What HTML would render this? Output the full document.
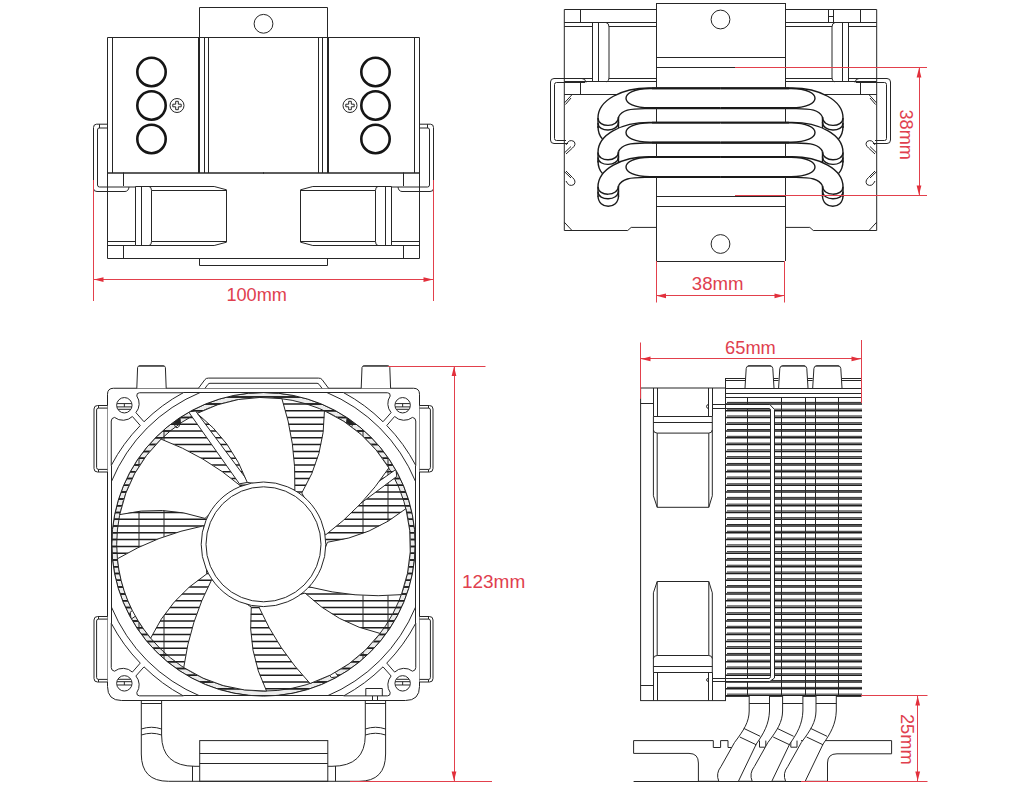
<!DOCTYPE html>
<html><head><meta charset="utf-8"><style>
html,body{margin:0;padding:0;background:#fff;width:1024px;height:800px;overflow:hidden}
svg{display:block}
.l{fill:none;stroke:#262626;stroke-width:1}
.w{fill:#fff;stroke:#262626;stroke-width:1}
.t{fill:none;stroke:#151515;stroke-width:2.6}
.nf{fill:#fff;stroke:none}
.pc{fill:none;stroke:#1a1a1a;stroke-width:1.4}
.thk{stroke:#1a1a1a;stroke-width:1.8}
.fin{stroke:#1e1e1e;stroke-width:1.5}
.r{stroke:#e2404c;stroke-width:1;fill:none}
.ra{fill:#e2303c;stroke:none}
.tx{font-family:"Liberation Sans",sans-serif;font-size:18px;fill:#e0404e;text-anchor:middle}
</style></head><body>
<svg width="1024" height="800" viewBox="0 0 1024 800">
<g>
<path d="M264,37.5 H107.5 V173 H264" class="l" />
<line x1="112.5" y1="37.5" x2="112.5" y2="173" class="l" />
<line x1="198.5" y1="37.5" x2="198.5" y2="173" class="l" />
<line x1="199.5" y1="37.5" x2="199.5" y2="173" class="l" />
<line x1="204.5" y1="37.5" x2="204.5" y2="173" class="l" />
<line x1="208.5" y1="37.5" x2="208.5" y2="173" class="l" />
<circle cx="151.5" cy="72" r="14.2" class="t" />
<circle cx="151.5" cy="105.5" r="14.2" class="t" />
<circle cx="151.5" cy="139" r="14.2" class="t" />
<circle cx="177" cy="105.5" r="7" class="l" stroke-width="1.2"/>
<path d="M172.8,104.2 H175.7 V101.3 H178.3 V104.2 H181.2 V106.8 H178.3 V109.7 H175.7 V106.8 H172.8 Z" class="l" stroke-width="1.2"/>
<path d="M264,173 H107.5 V258.5 H264" class="l" />
<line x1="123.5" y1="172.5" x2="123.5" y2="186" class="l" />
<line x1="123.5" y1="245.3" x2="123.5" y2="258.3" class="l" />
<line x1="107.5" y1="241.5" x2="135.5" y2="241.5" class="l" />
<line x1="107.5" y1="245.5" x2="135.5" y2="245.5" class="l" />
<path d="M135.5,186.5 H214.2 L226.5,189.8 V242.2 L214.2,245.5 H135.5 Z" class="l" />
<line x1="151.6" y1="190.5" x2="226.5" y2="190.5" class="l" />
<line x1="151.6" y1="241.5" x2="226.5" y2="241.5" class="l" />
<line x1="141.5" y1="186.5" x2="141.5" y2="245.5" class="l" />
<path d="M149,186.5 Q151.5,186.8 151.5,190.5 V241.5 Q151.5,245.2 149,245.5" class="l" />
<path d="M107.5,124.2 H96.5 Q93.5,124.2 93.5,127.5 V188.5 Q93.5,191.5 97,191.5 H125 Q128.5,191.3 129,187" class="l" />
<path d="M107.5,128 H99 Q97.5,128 97.5,130 V185 Q97.5,187 99.5,187 H129 H135.5" class="l" />
<line x1="99.5" y1="124.2" x2="99.5" y2="128" class="l" />
<path d="M199.5,258.5 V265.5 H264" class="l" />
<path d="M199.5,37.5 V7.5 H264" class="l" />
</g>
<g transform="translate(527,0) scale(-1,1)">
<path d="M264,37.5 H107.5 V173 H264" class="l" />
<line x1="112.5" y1="37.5" x2="112.5" y2="173" class="l" />
<line x1="198.5" y1="37.5" x2="198.5" y2="173" class="l" />
<line x1="199.5" y1="37.5" x2="199.5" y2="173" class="l" />
<line x1="204.5" y1="37.5" x2="204.5" y2="173" class="l" />
<line x1="208.5" y1="37.5" x2="208.5" y2="173" class="l" />
<circle cx="151.5" cy="72" r="14.2" class="t" />
<circle cx="151.5" cy="105.5" r="14.2" class="t" />
<circle cx="151.5" cy="139" r="14.2" class="t" />
<circle cx="177" cy="105.5" r="7" class="l" stroke-width="1.2"/>
<path d="M172.8,104.2 H175.7 V101.3 H178.3 V104.2 H181.2 V106.8 H178.3 V109.7 H175.7 V106.8 H172.8 Z" class="l" stroke-width="1.2"/>
<path d="M264,173 H107.5 V258.5 H264" class="l" />
<line x1="123.5" y1="172.5" x2="123.5" y2="186" class="l" />
<line x1="123.5" y1="245.3" x2="123.5" y2="258.3" class="l" />
<line x1="107.5" y1="241.5" x2="135.5" y2="241.5" class="l" />
<line x1="107.5" y1="245.5" x2="135.5" y2="245.5" class="l" />
<path d="M135.5,186.5 H214.2 L226.5,189.8 V242.2 L214.2,245.5 H135.5 Z" class="l" />
<line x1="151.6" y1="190.5" x2="226.5" y2="190.5" class="l" />
<line x1="151.6" y1="241.5" x2="226.5" y2="241.5" class="l" />
<line x1="141.5" y1="186.5" x2="141.5" y2="245.5" class="l" />
<path d="M149,186.5 Q151.5,186.8 151.5,190.5 V241.5 Q151.5,245.2 149,245.5" class="l" />
<path d="M107.5,124.2 H96.5 Q93.5,124.2 93.5,127.5 V188.5 Q93.5,191.5 97,191.5 H125 Q128.5,191.3 129,187" class="l" />
<path d="M107.5,128 H99 Q97.5,128 97.5,130 V185 Q97.5,187 99.5,187 H129 H135.5" class="l" />
<line x1="99.5" y1="124.2" x2="99.5" y2="128" class="l" />
<path d="M199.5,258.5 V265.5 H264" class="l" />
<path d="M199.5,37.5 V7.5 H264" class="l" />
</g>
<circle cx="263.5" cy="23.8" r="9.4" class="l" />
<line x1="93.5" y1="180" x2="93.5" y2="301" class="r" />
<line x1="433.5" y1="180" x2="433.5" y2="301" class="r" />
<line x1="93.5" y1="279.5" x2="433.5" y2="279.5" class="r" />
<polygon points="94,279.6 103.5,277.2 103.5,282" class="ra"/>
<polygon points="433,279.6 423.5,277.2 423.5,282" class="ra"/>
<text x="256.65" y="300.8" class="tx" textLength="60.5" lengthAdjust="spacingAndGlyphs">100mm</text>
<g>
<path d="M656,9.5 H564.3 V230.5 H627.7 L631.2,227.4 H656" class="l" />
<line x1="580.5" y1="9.5" x2="580.5" y2="22.5" class="l" />
<line x1="564.3" y1="22.5" x2="656" y2="22.5" class="l" />
<line x1="564.3" y1="26.5" x2="592.5" y2="26.5" class="l" />
<line x1="609" y1="26.5" x2="656" y2="26.5" class="l" />
<line x1="592.5" y1="22.5" x2="592.5" y2="81.8" class="l" />
<line x1="598.5" y1="22.5" x2="598.5" y2="81.8" class="l" />
<path d="M606,22.5 Q609,23 609,27 V77 Q609,81.5 606,81.8" class="l" />
<line x1="609" y1="78.5" x2="656" y2="78.5" class="l" />
<line x1="564.3" y1="78.5" x2="592.5" y2="78.5" class="l" />
<line x1="564.3" y1="81.5" x2="656" y2="81.5" class="l" />
<line x1="580.5" y1="82" x2="580.5" y2="94.7" class="l" />
<line x1="564.3" y1="94.5" x2="656" y2="94.5" class="l" />
<path d="M572,94.7 L564.3,103" class="l" />
<path d="M571,98 L565.5,104.5" class="l" stroke-width="0.7"/>
<path d="M564.3,222.2 L572,230.5" class="l" />
<path d="M564.3,153 L571,146.5" class="l" />
<path d="M564.3,171.5 L571,178" class="l" />
<path d="M566,145 Q569,138.5 574,141.5 Q576.5,144.5 572.5,148 L566,154" class="l" />
<path d="M566,171 L572.5,177.5 Q576.5,181 574,184.5 Q569,187.5 566,181" class="l" />
<path d="M583,78.5 H554 Q550.5,78.5 550.5,82 V140 Q550.5,143.5 554,143.5 H568" class="l" />
<path d="M585,82.5 H556.5 Q554.5,82.5 554.5,84.5 V138.5 Q554.5,140.5 556.5,140.5 H566" class="l" />
<path d="M582,78.5 Q585.5,78.5 586,82.5" class="l" />
<path d="M720.5,88 H649 C622,88 598,100 598,118 V128 C598,140 618.5,140 618.5,128 V117 C622,110 630,108.6 645,108.6 H720.5 Z" class="nf" />
<path d="M720.5,88 H649 C622,88 598,100 598,118 V128" class="pc" />
<path d="M598,118 C598,128 618.5,128 618.5,117" class="pc" />
<path d="M598,123 C598,132.5 618.5,132.5 618.5,122" class="pc" />
<line x1="618.5" y1="117" x2="618.5" y2="128" class="pc" />
<path d="M618.5,117 C622,110 630,108.6 645,108.6 H720.5" class="pc" />
<path d="M720.5,88.5 H650 C618,88.5 618,107.8 650,107.8 H720.5" class="pc" />
<line x1="652" y1="88.3" x2="720.5" y2="88.3" class="thk" />
<line x1="652" y1="108.2" x2="720.5" y2="108.2" class="thk" />
<path d="M720.5,122.4 H649 C622,122.4 598,134.4 598,152.4 V162.4 C598,174.4 618.5,174.4 618.5,162.4 V151.4 C622,144.4 630,143 645,143 H720.5 Z" class="nf" />
<path d="M720.5,122.4 H649 C622,122.4 598,134.4 598,152.4 V162.4" class="pc" />
<path d="M598,152.4 C598,162.4 618.5,162.4 618.5,151.4" class="pc" />
<path d="M598,157.4 C598,166.9 618.5,166.9 618.5,156.4" class="pc" />
<line x1="618.5" y1="151.4" x2="618.5" y2="162.4" class="pc" />
<path d="M618.5,151.4 C622,144.4 630,143 645,143 H720.5" class="pc" />
<path d="M720.5,122.9 H650 C618,122.9 618,142.2 650,142.2 H720.5" class="pc" />
<line x1="652" y1="122.7" x2="720.5" y2="122.7" class="thk" />
<line x1="652" y1="142.6" x2="720.5" y2="142.6" class="thk" />
<path d="M720.5,156.8 H649 C622,156.8 598,168.8 598,186.8 V196.8 C598,208.8 618.5,208.8 618.5,196.8 V185.8 C622,178.8 630,177.4 645,177.4 H720.5 Z" class="nf" />
<path d="M720.5,156.8 H649 C622,156.8 598,168.8 598,186.8 V196.8" class="pc" />
<path d="M598,186.8 C598,196.8 618.5,196.8 618.5,185.8" class="pc" />
<path d="M598,191.8 C598,201.3 618.5,201.3 618.5,190.8" class="pc" />
<line x1="618.5" y1="185.8" x2="618.5" y2="196.8" class="pc" />
<path d="M618.5,185.8 C622,178.8 630,177.4 645,177.4 H720.5" class="pc" />
<path d="M720.5,157.3 H650 C618,157.3 618,176.6 650,176.6 H720.5" class="pc" />
<line x1="652" y1="157.1" x2="720.5" y2="157.1" class="thk" />
<line x1="652" y1="177" x2="720.5" y2="177" class="thk" />
<path d="M598,126 C598,132 599.5,136 602.5,139" class="pc" />
<path d="M598,160.4 C598,166.4 599.5,170.4 602.5,173.4" class="pc" />
<path d="M598,195.8 C598,209.8 618.5,209.8 618.5,195.8" class="pc" stroke-width="1.8"/>
</g>
<g transform="translate(1441,0) scale(-1,1)">
<path d="M656,9.5 H564.3 V230.5 H627.7 L631.2,227.4 H656" class="l" />
<line x1="580.5" y1="9.5" x2="580.5" y2="22.5" class="l" />
<line x1="564.3" y1="22.5" x2="656" y2="22.5" class="l" />
<line x1="564.3" y1="26.5" x2="592.5" y2="26.5" class="l" />
<line x1="609" y1="26.5" x2="656" y2="26.5" class="l" />
<line x1="592.5" y1="22.5" x2="592.5" y2="81.8" class="l" />
<line x1="598.5" y1="22.5" x2="598.5" y2="81.8" class="l" />
<path d="M606,22.5 Q609,23 609,27 V77 Q609,81.5 606,81.8" class="l" />
<line x1="609" y1="78.5" x2="656" y2="78.5" class="l" />
<line x1="564.3" y1="78.5" x2="592.5" y2="78.5" class="l" />
<line x1="564.3" y1="81.5" x2="656" y2="81.5" class="l" />
<line x1="580.5" y1="82" x2="580.5" y2="94.7" class="l" />
<line x1="564.3" y1="94.5" x2="656" y2="94.5" class="l" />
<path d="M572,94.7 L564.3,103" class="l" />
<path d="M571,98 L565.5,104.5" class="l" stroke-width="0.7"/>
<path d="M564.3,222.2 L572,230.5" class="l" />
<path d="M564.3,153 L571,146.5" class="l" />
<path d="M564.3,171.5 L571,178" class="l" />
<path d="M566,145 Q569,138.5 574,141.5 Q576.5,144.5 572.5,148 L566,154" class="l" />
<path d="M566,171 L572.5,177.5 Q576.5,181 574,184.5 Q569,187.5 566,181" class="l" />
<path d="M583,78.5 H554 Q550.5,78.5 550.5,82 V140 Q550.5,143.5 554,143.5 H568" class="l" />
<path d="M585,82.5 H556.5 Q554.5,82.5 554.5,84.5 V138.5 Q554.5,140.5 556.5,140.5 H566" class="l" />
<path d="M582,78.5 Q585.5,78.5 586,82.5" class="l" />
<path d="M720.5,88 H649 C622,88 598,100 598,118 V128 C598,140 618.5,140 618.5,128 V117 C622,110 630,108.6 645,108.6 H720.5 Z" class="nf" />
<path d="M720.5,88 H649 C622,88 598,100 598,118 V128" class="pc" />
<path d="M598,118 C598,128 618.5,128 618.5,117" class="pc" />
<path d="M598,123 C598,132.5 618.5,132.5 618.5,122" class="pc" />
<line x1="618.5" y1="117" x2="618.5" y2="128" class="pc" />
<path d="M618.5,117 C622,110 630,108.6 645,108.6 H720.5" class="pc" />
<path d="M720.5,88.5 H650 C618,88.5 618,107.8 650,107.8 H720.5" class="pc" />
<line x1="652" y1="88.3" x2="720.5" y2="88.3" class="thk" />
<line x1="652" y1="108.2" x2="720.5" y2="108.2" class="thk" />
<path d="M720.5,122.4 H649 C622,122.4 598,134.4 598,152.4 V162.4 C598,174.4 618.5,174.4 618.5,162.4 V151.4 C622,144.4 630,143 645,143 H720.5 Z" class="nf" />
<path d="M720.5,122.4 H649 C622,122.4 598,134.4 598,152.4 V162.4" class="pc" />
<path d="M598,152.4 C598,162.4 618.5,162.4 618.5,151.4" class="pc" />
<path d="M598,157.4 C598,166.9 618.5,166.9 618.5,156.4" class="pc" />
<line x1="618.5" y1="151.4" x2="618.5" y2="162.4" class="pc" />
<path d="M618.5,151.4 C622,144.4 630,143 645,143 H720.5" class="pc" />
<path d="M720.5,122.9 H650 C618,122.9 618,142.2 650,142.2 H720.5" class="pc" />
<line x1="652" y1="122.7" x2="720.5" y2="122.7" class="thk" />
<line x1="652" y1="142.6" x2="720.5" y2="142.6" class="thk" />
<path d="M720.5,156.8 H649 C622,156.8 598,168.8 598,186.8 V196.8 C598,208.8 618.5,208.8 618.5,196.8 V185.8 C622,178.8 630,177.4 645,177.4 H720.5 Z" class="nf" />
<path d="M720.5,156.8 H649 C622,156.8 598,168.8 598,186.8 V196.8" class="pc" />
<path d="M598,186.8 C598,196.8 618.5,196.8 618.5,185.8" class="pc" />
<path d="M598,191.8 C598,201.3 618.5,201.3 618.5,190.8" class="pc" />
<line x1="618.5" y1="185.8" x2="618.5" y2="196.8" class="pc" />
<path d="M618.5,185.8 C622,178.8 630,177.4 645,177.4 H720.5" class="pc" />
<path d="M720.5,157.3 H650 C618,157.3 618,176.6 650,176.6 H720.5" class="pc" />
<line x1="652" y1="157.1" x2="720.5" y2="157.1" class="thk" />
<line x1="652" y1="177" x2="720.5" y2="177" class="thk" />
<path d="M598,126 C598,132 599.5,136 602.5,139" class="pc" />
<path d="M598,160.4 C598,166.4 599.5,170.4 602.5,173.4" class="pc" />
<path d="M598,195.8 C598,209.8 618.5,209.8 618.5,195.8" class="pc" stroke-width="1.8"/>
</g>
<line x1="656.5" y1="3" x2="656.5" y2="88" class="l" />
<line x1="785.5" y1="3" x2="785.5" y2="88" class="l" />
<line x1="656.5" y1="108.6" x2="656.5" y2="122.4" class="l" />
<line x1="785.5" y1="108.6" x2="785.5" y2="122.4" class="l" />
<line x1="656.5" y1="143" x2="656.5" y2="156.8" class="l" />
<line x1="785.5" y1="143" x2="785.5" y2="156.8" class="l" />
<line x1="656.5" y1="177.4" x2="656.5" y2="261" class="l" />
<line x1="785.5" y1="177.4" x2="785.5" y2="261" class="l" />
<line x1="656" y1="3.5" x2="785" y2="3.5" class="l" />
<line x1="656" y1="261.5" x2="785" y2="261.5" class="l" />
<line x1="656" y1="57.5" x2="785" y2="57.5" class="l" />
<line x1="656" y1="67.5" x2="785" y2="67.5" class="l" />
<line x1="656" y1="196.5" x2="785" y2="196.5" class="l" />
<line x1="656" y1="206.5" x2="785" y2="206.5" class="l" />
<circle cx="720.5" cy="19.5" r="9.4" class="l" />
<circle cx="720.5" cy="244" r="9.4" class="l" />
<line x1="828.5" y1="9.5" x2="828.5" y2="22.5" class="l" />
<line x1="833.5" y1="9.5" x2="833.5" y2="22.5" class="l" />
<line x1="828.5" y1="16.5" x2="833.3" y2="16.5" class="l" />
<line x1="735" y1="67.5" x2="927" y2="67.5" class="r" />
<line x1="735" y1="195.5" x2="927" y2="195.5" class="r" />
<line x1="919.5" y1="67.4" x2="919.5" y2="195.5" class="r" />
<polygon points="919,68 916.6,77.5 921.4,77.5" class="ra"/>
<polygon points="919,195 916.6,185.5 921.4,185.5" class="ra"/>
<text x="134.7" y="-899.5" class="tx" transform="rotate(90)" textLength="50.4" lengthAdjust="spacingAndGlyphs">38mm</text>
<line x1="656.5" y1="261" x2="656.5" y2="302.5" class="r" />
<line x1="784.5" y1="261" x2="784.5" y2="302.5" class="r" />
<line x1="656" y1="295.5" x2="784.5" y2="295.5" class="r" />
<polygon points="656.5,295.8 666,293.4 666,298.2" class="ra"/>
<polygon points="784,295.8 774.5,293.4 774.5,298.2" class="ra"/>
<text x="717.65" y="289.8" class="tx" textLength="51.7" lengthAdjust="spacingAndGlyphs">38mm</text>
<clipPath id="ringclip"><circle cx="263.5" cy="544.3" r="151.8"/></clipPath>
<clipPath id="annclip"><path d="M263.5,392.5 A151.8,151.8 0 1 0 263.5,696.1 A151.8,151.8 0 1 0 263.5,392.5 Z M263.5,397.5 A146.8,146.8 0 1 0 263.5,691.1 A146.8,146.8 0 1 0 263.5,397.5 Z" clip-rule="evenodd"/></clipPath>
<path d="M263.5,392.5 A151.8,151.8 0 1 0 263.5,696.1 A151.8,151.8 0 1 0 263.5,392.5 Z M263.5,397.5 A146.8,146.8 0 1 0 263.5,691.1 A146.8,146.8 0 1 0 263.5,397.5 Z" fill="#ececec" fill-rule="evenodd" stroke="none"/>
<g clip-path="url(#annclip)">
<line x1="100" y1="390.33" x2="430" y2="390.33" class="fin" stroke-width="2.3"/>
<line x1="100" y1="397.11" x2="430" y2="397.11" class="fin" stroke-width="2.3"/>
<line x1="100" y1="403.9" x2="430" y2="403.9" class="fin" stroke-width="2.3"/>
<line x1="100" y1="410.69" x2="430" y2="410.69" class="fin" stroke-width="2.3"/>
<line x1="100" y1="417.47" x2="430" y2="417.47" class="fin" stroke-width="2.3"/>
<line x1="100" y1="424.25" x2="430" y2="424.25" class="fin" stroke-width="2.3"/>
<line x1="100" y1="431.04" x2="430" y2="431.04" class="fin" stroke-width="2.3"/>
<line x1="100" y1="437.82" x2="430" y2="437.82" class="fin" stroke-width="2.3"/>
<line x1="100" y1="444.61" x2="430" y2="444.61" class="fin" stroke-width="2.3"/>
<line x1="100" y1="451.39" x2="430" y2="451.39" class="fin" stroke-width="2.3"/>
<line x1="100" y1="458.18" x2="430" y2="458.18" class="fin" stroke-width="2.3"/>
<line x1="100" y1="464.96" x2="430" y2="464.96" class="fin" stroke-width="2.3"/>
<line x1="100" y1="471.75" x2="430" y2="471.75" class="fin" stroke-width="2.3"/>
<line x1="100" y1="478.53" x2="430" y2="478.53" class="fin" stroke-width="2.3"/>
<line x1="100" y1="485.32" x2="430" y2="485.32" class="fin" stroke-width="2.3"/>
<line x1="100" y1="492.1" x2="430" y2="492.1" class="fin" stroke-width="2.3"/>
<line x1="100" y1="498.89" x2="430" y2="498.89" class="fin" stroke-width="2.3"/>
<line x1="100" y1="505.67" x2="430" y2="505.67" class="fin" stroke-width="2.3"/>
<line x1="100" y1="512.46" x2="430" y2="512.46" class="fin" stroke-width="2.3"/>
<line x1="100" y1="519.25" x2="430" y2="519.25" class="fin" stroke-width="2.3"/>
<line x1="100" y1="526.03" x2="430" y2="526.03" class="fin" stroke-width="2.3"/>
<line x1="100" y1="532.81" x2="430" y2="532.81" class="fin" stroke-width="2.3"/>
<line x1="100" y1="539.6" x2="430" y2="539.6" class="fin" stroke-width="2.3"/>
<line x1="100" y1="546.38" x2="430" y2="546.38" class="fin" stroke-width="2.3"/>
<line x1="100" y1="553.17" x2="430" y2="553.17" class="fin" stroke-width="2.3"/>
<line x1="100" y1="559.95" x2="430" y2="559.95" class="fin" stroke-width="2.3"/>
<line x1="100" y1="566.74" x2="430" y2="566.74" class="fin" stroke-width="2.3"/>
<line x1="100" y1="573.52" x2="430" y2="573.52" class="fin" stroke-width="2.3"/>
<line x1="100" y1="580.31" x2="430" y2="580.31" class="fin" stroke-width="2.3"/>
<line x1="100" y1="587.1" x2="430" y2="587.1" class="fin" stroke-width="2.3"/>
<line x1="100" y1="593.88" x2="430" y2="593.88" class="fin" stroke-width="2.3"/>
<line x1="100" y1="600.66" x2="430" y2="600.66" class="fin" stroke-width="2.3"/>
<line x1="100" y1="607.45" x2="430" y2="607.45" class="fin" stroke-width="2.3"/>
<line x1="100" y1="614.24" x2="430" y2="614.24" class="fin" stroke-width="2.3"/>
<line x1="100" y1="621.02" x2="430" y2="621.02" class="fin" stroke-width="2.3"/>
<line x1="100" y1="627.8" x2="430" y2="627.8" class="fin" stroke-width="2.3"/>
<line x1="100" y1="634.59" x2="430" y2="634.59" class="fin" stroke-width="2.3"/>
<line x1="100" y1="641.38" x2="430" y2="641.38" class="fin" stroke-width="2.3"/>
<line x1="100" y1="648.16" x2="430" y2="648.16" class="fin" stroke-width="2.3"/>
<line x1="100" y1="654.94" x2="430" y2="654.94" class="fin" stroke-width="2.3"/>
<line x1="100" y1="661.73" x2="430" y2="661.73" class="fin" stroke-width="2.3"/>
<line x1="100" y1="668.51" x2="430" y2="668.51" class="fin" stroke-width="2.3"/>
<line x1="100" y1="675.3" x2="430" y2="675.3" class="fin" stroke-width="2.3"/>
<line x1="100" y1="682.09" x2="430" y2="682.09" class="fin" stroke-width="2.3"/>
<line x1="100" y1="688.87" x2="430" y2="688.87" class="fin" stroke-width="2.3"/>
<line x1="100" y1="695.65" x2="430" y2="695.65" class="fin" stroke-width="2.3"/>
<line x1="100" y1="702.44" x2="430" y2="702.44" class="fin" stroke-width="2.3"/>
</g>
<g clip-path="url(#ringclip)">
<line x1="100" y1="390.33" x2="430" y2="390.33" class="fin" />
<line x1="100" y1="397.11" x2="430" y2="397.11" class="fin" />
<line x1="100" y1="403.9" x2="430" y2="403.9" class="fin" />
<line x1="100" y1="410.69" x2="430" y2="410.69" class="fin" />
<line x1="100" y1="417.47" x2="430" y2="417.47" class="fin" />
<line x1="100" y1="424.25" x2="430" y2="424.25" class="fin" />
<line x1="100" y1="431.04" x2="430" y2="431.04" class="fin" />
<line x1="100" y1="437.82" x2="430" y2="437.82" class="fin" />
<line x1="100" y1="444.61" x2="430" y2="444.61" class="fin" />
<line x1="100" y1="451.39" x2="430" y2="451.39" class="fin" />
<line x1="100" y1="458.18" x2="430" y2="458.18" class="fin" />
<line x1="100" y1="464.96" x2="430" y2="464.96" class="fin" />
<line x1="100" y1="471.75" x2="430" y2="471.75" class="fin" />
<line x1="100" y1="478.53" x2="430" y2="478.53" class="fin" />
<line x1="100" y1="485.32" x2="430" y2="485.32" class="fin" />
<line x1="100" y1="492.1" x2="430" y2="492.1" class="fin" />
<line x1="100" y1="498.89" x2="430" y2="498.89" class="fin" />
<line x1="100" y1="505.67" x2="430" y2="505.67" class="fin" />
<line x1="100" y1="512.46" x2="430" y2="512.46" class="fin" />
<line x1="100" y1="519.25" x2="430" y2="519.25" class="fin" />
<line x1="100" y1="526.03" x2="430" y2="526.03" class="fin" />
<line x1="100" y1="532.81" x2="430" y2="532.81" class="fin" />
<line x1="100" y1="539.6" x2="430" y2="539.6" class="fin" />
<line x1="100" y1="546.38" x2="430" y2="546.38" class="fin" />
<line x1="100" y1="553.17" x2="430" y2="553.17" class="fin" />
<line x1="100" y1="559.95" x2="430" y2="559.95" class="fin" />
<line x1="100" y1="566.74" x2="430" y2="566.74" class="fin" />
<line x1="100" y1="573.52" x2="430" y2="573.52" class="fin" />
<line x1="100" y1="580.31" x2="430" y2="580.31" class="fin" />
<line x1="100" y1="587.1" x2="430" y2="587.1" class="fin" />
<line x1="100" y1="593.88" x2="430" y2="593.88" class="fin" />
<line x1="100" y1="600.66" x2="430" y2="600.66" class="fin" />
<line x1="100" y1="607.45" x2="430" y2="607.45" class="fin" />
<line x1="100" y1="614.24" x2="430" y2="614.24" class="fin" />
<line x1="100" y1="621.02" x2="430" y2="621.02" class="fin" />
<line x1="100" y1="627.8" x2="430" y2="627.8" class="fin" />
<line x1="100" y1="634.59" x2="430" y2="634.59" class="fin" />
<line x1="100" y1="641.38" x2="430" y2="641.38" class="fin" />
<line x1="100" y1="648.16" x2="430" y2="648.16" class="fin" />
<line x1="100" y1="654.94" x2="430" y2="654.94" class="fin" />
<line x1="100" y1="661.73" x2="430" y2="661.73" class="fin" />
<line x1="100" y1="668.51" x2="430" y2="668.51" class="fin" />
<line x1="100" y1="675.3" x2="430" y2="675.3" class="fin" />
<line x1="100" y1="682.09" x2="430" y2="682.09" class="fin" />
<line x1="100" y1="688.87" x2="430" y2="688.87" class="fin" />
<line x1="100" y1="695.65" x2="430" y2="695.65" class="fin" />
<line x1="100" y1="702.44" x2="430" y2="702.44" class="fin" />
<line x1="139" y1="380" x2="139" y2="700" class="l" stroke-width="0.6" stroke="#555"/>
<line x1="164" y1="380" x2="164" y2="700" class="l" stroke-width="0.6" stroke="#555"/>
<line x1="363" y1="380" x2="363" y2="700" class="l" stroke-width="0.6" stroke="#555"/>
<line x1="388" y1="380" x2="388" y2="700" class="l" stroke-width="0.6" stroke="#555"/>
</g>
<circle cx="263.5" cy="544.3" r="146.8" class="l" stroke-width="1.1"/>
<circle cx="263.5" cy="544.3" r="151.8" class="l" stroke-width="1.1"/>
<path d="M188.6,411.9 L239.4,483.8 L248.8,482.2 L195.6,411 Z" class="w" transform="rotate(0 263.5 544.3)"/>
<path d="M188.6,411.9 L239.4,483.8 L248.8,482.2 L195.6,411 Z" class="w" transform="rotate(90 263.5 544.3)"/>
<path d="M188.6,411.9 L239.4,483.8 L248.8,482.2 L195.6,411 Z" class="w" transform="rotate(180 263.5 544.3)"/>
<path d="M188.6,411.9 L239.4,483.8 L248.8,482.2 L195.6,411 Z" class="w" transform="rotate(270 263.5 544.3)"/>
<g >
<path d="M173.5,424 L176,418.5 L180,418 L180.5,424 Z" class="l" style="fill:#222"/>
<path d="M174.8,424 V426 Q177,429.5 179.3,426 V424" class="l" stroke-width="0.9"/>
</g>
<g transform="translate(527,0) scale(-1,1)">
<path d="M173.5,424 L176,418.5 L180,418 L180.5,424 Z" class="l" style="fill:#222"/>
<path d="M174.8,424 V426 Q177,429.5 179.3,426 V424" class="l" stroke-width="0.9"/>
</g>
<path d="M197.08,413.38 A146.8,146.8 0 0 1 281.9,398.66 Q296.3,443.21 294.85,490 L247.26,482.39 Q231.88,440.83 197.08,413.38 Z" class="w" />
<path d="M324.44,410.75 A146.8,146.8 0 0 1 388.84,467.88 Q362.99,506.91 325.5,534.96 L301.77,493.01 Q324.68,455.07 324.44,410.75 Z" class="w" />
<path d="M405.91,508.68 A146.8,146.8 0 0 1 401.4,594.65 Q354.76,598.77 309.46,586.95 L327.47,542.24 Q371.41,536.49 405.91,508.68 Z" class="w" />
<path d="M380.14,633.43 A146.8,146.8 0 0 1 310.12,683.5 Q277.82,649.61 258.81,606.82 L304.99,593.03 Q336.88,623.8 380.14,633.43 Z" class="w" />
<path d="M266.54,691.07 A146.8,146.8 0 0 1 183.73,667.54 Q190.09,621.15 211.69,579.62 L251.27,607.12 Q247.1,651.24 266.54,691.07 Z" class="w" />
<path d="M150.65,638.18 A146.8,146.8 0 0 1 117.41,558.77 Q157.64,534.82 203.59,525.82 L206.76,573.91 Q169.66,598.15 150.65,638.18 Z" class="w" />
<path d="M119.74,514.6 A146.8,146.8 0 0 1 161.1,439.11 Q204.91,455.63 240.59,485.93 L204.97,518.4 Q162.89,504.51 119.74,514.6 Z" class="w" />
<circle cx="263.5" cy="544.3" r="62.3" class="w" />
<circle cx="263.5" cy="544.3" r="57.5" class="l" />
<path d="M113.5,388.25 H413.5 Q419.5,388.25 419.5,394.25 V686.5 Q419.5,700.5 405.5,700.5 H121.5 Q107.5,700.5 107.5,686.5 V394.25 Q107.5,388.25 113.5,388.25 Z M263.5,392.5 A151.8,151.8 0 1 0 263.5,696.1 A151.8,151.8 0 1 0 263.5,392.5 Z" fill="#fff" fill-rule="evenodd" stroke="#222" stroke-width="1"/>
<line x1="111.5" y1="465.4" x2="111.5" y2="623.2" class="l" />
<line x1="415.5" y1="465.4" x2="415.5" y2="623.2" class="l" />
<line x1="183.2" y1="392.5" x2="343.8" y2="392.5" class="l" />
<line x1="183.2" y1="695.5" x2="343.8" y2="695.5" class="l" />
<clipPath id="frclip"><rect x="111.25" y="392.75" width="304.5" height="303.1"/></clipPath>
<g clip-path="url(#frclip)">
<circle cx="263.5" cy="544.3" r="164.5" class="l" />
</g>
<g transform="">
<circle cx="124.35" cy="405.25" r="7.7" class="l" />
<line x1="117.15" y1="403.6" x2="131.55" y2="403.6" class="l" stroke-width="1.4"/>
<line x1="117.05" y1="406.9" x2="131.65" y2="406.9" class="l" stroke-width="0.8"/>
<line x1="118.05" y1="409.3" x2="130.65" y2="409.3" class="l" stroke-width="0.8"/>
<line x1="124.35" y1="403.6" x2="124.35" y2="406.9" class="l" stroke-width="0.8"/>
<path d="M139.5,392.75 H183.2 A171.5,171.5 0 0 0 144,421.75 L135.9,412.6 A13.7,13.7 0 0 0 136.8,396 Q136.5,392.75 139.5,392.75 Z" class="l" />
<path d="M111.25,465.4 V421 Q111.25,418 114.5,417.4 A13.8,13.8 0 0 0 132.4,416.5 L140.25,425.5 A171.5,171.5 0 0 0 111.25,465.4 Z" class="l" />
</g>
<g transform="translate(527,0) scale(-1,1)">
<circle cx="124.35" cy="405.25" r="7.7" class="l" />
<line x1="117.15" y1="403.6" x2="131.55" y2="403.6" class="l" stroke-width="1.4"/>
<line x1="117.05" y1="406.9" x2="131.65" y2="406.9" class="l" stroke-width="0.8"/>
<line x1="118.05" y1="409.3" x2="130.65" y2="409.3" class="l" stroke-width="0.8"/>
<line x1="124.35" y1="403.6" x2="124.35" y2="406.9" class="l" stroke-width="0.8"/>
<path d="M139.5,392.75 H183.2 A171.5,171.5 0 0 0 144,421.75 L135.9,412.6 A13.7,13.7 0 0 0 136.8,396 Q136.5,392.75 139.5,392.75 Z" class="l" />
<path d="M111.25,465.4 V421 Q111.25,418 114.5,417.4 A13.8,13.8 0 0 0 132.4,416.5 L140.25,425.5 A171.5,171.5 0 0 0 111.25,465.4 Z" class="l" />
</g>
<g transform="translate(0,1088.6) scale(1,-1)">
<circle cx="124.35" cy="405.25" r="7.7" class="l" />
<line x1="117.15" y1="403.6" x2="131.55" y2="403.6" class="l" stroke-width="1.4"/>
<line x1="117.05" y1="406.9" x2="131.65" y2="406.9" class="l" stroke-width="0.8"/>
<line x1="118.05" y1="409.3" x2="130.65" y2="409.3" class="l" stroke-width="0.8"/>
<line x1="124.35" y1="403.6" x2="124.35" y2="406.9" class="l" stroke-width="0.8"/>
<path d="M139.5,392.75 H183.2 A171.5,171.5 0 0 0 144,421.75 L135.9,412.6 A13.7,13.7 0 0 0 136.8,396 Q136.5,392.75 139.5,392.75 Z" class="l" />
<path d="M111.25,465.4 V421 Q111.25,418 114.5,417.4 A13.8,13.8 0 0 0 132.4,416.5 L140.25,425.5 A171.5,171.5 0 0 0 111.25,465.4 Z" class="l" />
</g>
<g transform="translate(527,1088.6) scale(-1,-1)">
<circle cx="124.35" cy="405.25" r="7.7" class="l" />
<line x1="117.15" y1="403.6" x2="131.55" y2="403.6" class="l" stroke-width="1.4"/>
<line x1="117.05" y1="406.9" x2="131.65" y2="406.9" class="l" stroke-width="0.8"/>
<line x1="118.05" y1="409.3" x2="130.65" y2="409.3" class="l" stroke-width="0.8"/>
<line x1="124.35" y1="403.6" x2="124.35" y2="406.9" class="l" stroke-width="0.8"/>
<path d="M139.5,392.75 H183.2 A171.5,171.5 0 0 0 144,421.75 L135.9,412.6 A13.7,13.7 0 0 0 136.8,396 Q136.5,392.75 139.5,392.75 Z" class="l" />
<path d="M111.25,465.4 V421 Q111.25,418 114.5,417.4 A13.8,13.8 0 0 0 132.4,416.5 L140.25,425.5 A171.5,171.5 0 0 0 111.25,465.4 Z" class="l" />
</g>
<path d="M198.4,388.3 L205,379.5 Q206,378.1 208.5,378.1 H318.5 Q321,378.1 322,379.5 L328.6,388.3" class="w" />
<path d="M205,388.3 L208,384.3 Q208.8,383.3 210,383.3 H317 Q318.2,383.3 319,384.3 L322,388.3" class="l" />
<g >
<path d="M107.5,405.5 H97.5 Q94,405.5 94,409 V468.5 Q94,472 97.5,472 H107.5" class="w" />
<path d="M107.5,408.1 H98.5 Q96.6,408.1 96.6,410 V467.5 Q96.6,469.4 98.5,469.4 H107.5" class="l" stroke-width="0.8"/>
<line x1="98.5" y1="405.5" x2="98.5" y2="408.1" class="l" stroke-width="0.7"/>
<line x1="98.5" y1="469.4" x2="98.5" y2="472" class="l" stroke-width="0.7"/>
</g>
<g transform="translate(527,0) scale(-1,1)">
<path d="M107.5,405.5 H97.5 Q94,405.5 94,409 V468.5 Q94,472 97.5,472 H107.5" class="w" />
<path d="M107.5,408.1 H98.5 Q96.6,408.1 96.6,410 V467.5 Q96.6,469.4 98.5,469.4 H107.5" class="l" stroke-width="0.8"/>
<line x1="98.5" y1="405.5" x2="98.5" y2="408.1" class="l" stroke-width="0.7"/>
<line x1="98.5" y1="469.4" x2="98.5" y2="472" class="l" stroke-width="0.7"/>
</g>
<g >
<path d="M107.5,616.5 H97.5 Q94,616.5 94,620 V678.5 Q94,682 97.5,682 H107.5" class="w" />
<path d="M107.5,619.1 H98.5 Q96.6,619.1 96.6,621 V677.5 Q96.6,679.4 98.5,679.4 H107.5" class="l" stroke-width="0.8"/>
<line x1="98.5" y1="616.5" x2="98.5" y2="619.1" class="l" stroke-width="0.7"/>
<line x1="98.5" y1="679.4" x2="98.5" y2="682" class="l" stroke-width="0.7"/>
</g>
<g transform="translate(527,0) scale(-1,1)">
<path d="M107.5,616.5 H97.5 Q94,616.5 94,620 V678.5 Q94,682 97.5,682 H107.5" class="w" />
<path d="M107.5,619.1 H98.5 Q96.6,619.1 96.6,621 V677.5 Q96.6,679.4 98.5,679.4 H107.5" class="l" stroke-width="0.8"/>
<line x1="98.5" y1="616.5" x2="98.5" y2="619.1" class="l" stroke-width="0.7"/>
<line x1="98.5" y1="679.4" x2="98.5" y2="682" class="l" stroke-width="0.7"/>
</g>
<path d="M365.8,696 V688.5 H382.3 V696" class="l" />
<line x1="372.5" y1="696" x2="372.5" y2="700.5" class="l" />
<line x1="377.5" y1="696" x2="377.5" y2="700.5" class="l" />
<path d="M136.8,388.3 L137.6,367.5 Q137.8,365.9 139.8,365.9 H163.2 Q165.2,365.9 165.4,367.5 L166.2,388.3" class="w" />
<line x1="138.8" y1="366" x2="164.2" y2="366" class="l" stroke-width="1.8" stroke="#111"/>
<path d="M361.2,388.3 L362,367.5 Q362.2,365.9 364.2,365.9 H387.6 Q389.6,365.9 389.8,367.5 L390.6,388.3" class="w" />
<line x1="363.2" y1="366" x2="388.6" y2="366" class="l" stroke-width="1.8" stroke="#111"/>
<path d="M141.3,700.5 V754 Q141.3,781.3 168.5,781.3 H359 Q385.6,781.3 385.6,754 V700.5" class="l" />
<path d="M161.6,700.5 V735 Q161.6,766.3 195,766.3 H199.7" class="l" />
<path d="M365.3,700.5 V735 Q365.3,766.3 332,766.3 H327.8" class="l" />
<line x1="141.3" y1="703.5" x2="161.6" y2="703.5" class="l" />
<line x1="365.3" y1="703.5" x2="385.6" y2="703.5" class="l" />
<path d="M141.3,729 Q151.5,725.5 161.6,729" class="l" />
<path d="M141.3,735 Q151.5,731.5 161.6,735" class="l" />
<path d="M365.3,729 Q375.5,725.5 385.6,729" class="l" />
<path d="M365.3,735 Q375.5,731.5 385.6,735" class="l" />
<rect x="199.7" y="740.6" width="128.1" height="40.7" class="l" />
<line x1="199.7" y1="753.5" x2="327.8" y2="753.5" class="l" />
<line x1="199.7" y1="763.5" x2="327.8" y2="763.5" class="l" />
<line x1="192.5" y1="766" x2="192.5" y2="781.3" class="l" />
<line x1="335.5" y1="766" x2="335.5" y2="781.3" class="l" />
<line x1="388" y1="366.5" x2="485.5" y2="366.5" class="r" />
<line x1="350" y1="781.5" x2="492" y2="781.5" class="r" />
<line x1="454.5" y1="366" x2="454.5" y2="781.3" class="r" />
<polygon points="454,366.5 451.6,376 456.4,376" class="ra"/>
<polygon points="454,781 451.6,771.5 456.4,771.5" class="ra"/>
<text x="493.6" y="588.1" class="tx" textLength="63.4" lengthAdjust="spacingAndGlyphs">123mm</text>
<line x1="727" y1="402.4" x2="862" y2="402.4" class="l" stroke="#8c8c8c" stroke-width="1.2"/>
<line x1="725.5" y1="403.9" x2="862" y2="403.9" class="fin" />
<line x1="727" y1="409.19" x2="862" y2="409.19" class="l" stroke="#8c8c8c" stroke-width="1.2"/>
<line x1="725.5" y1="410.69" x2="862" y2="410.69" class="fin" />
<line x1="727" y1="415.97" x2="862" y2="415.97" class="l" stroke="#8c8c8c" stroke-width="1.2"/>
<line x1="725.5" y1="417.47" x2="862" y2="417.47" class="fin" />
<line x1="727" y1="422.75" x2="862" y2="422.75" class="l" stroke="#8c8c8c" stroke-width="1.2"/>
<line x1="725.5" y1="424.25" x2="862" y2="424.25" class="fin" />
<line x1="727" y1="429.54" x2="862" y2="429.54" class="l" stroke="#8c8c8c" stroke-width="1.2"/>
<line x1="725.5" y1="431.04" x2="862" y2="431.04" class="fin" />
<line x1="727" y1="436.32" x2="862" y2="436.32" class="l" stroke="#8c8c8c" stroke-width="1.2"/>
<line x1="725.5" y1="437.82" x2="862" y2="437.82" class="fin" />
<line x1="727" y1="443.11" x2="862" y2="443.11" class="l" stroke="#8c8c8c" stroke-width="1.2"/>
<line x1="725.5" y1="444.61" x2="862" y2="444.61" class="fin" />
<line x1="727" y1="449.89" x2="862" y2="449.89" class="l" stroke="#8c8c8c" stroke-width="1.2"/>
<line x1="725.5" y1="451.39" x2="862" y2="451.39" class="fin" />
<line x1="727" y1="456.68" x2="862" y2="456.68" class="l" stroke="#8c8c8c" stroke-width="1.2"/>
<line x1="725.5" y1="458.18" x2="862" y2="458.18" class="fin" />
<line x1="727" y1="463.46" x2="862" y2="463.46" class="l" stroke="#8c8c8c" stroke-width="1.2"/>
<line x1="725.5" y1="464.96" x2="862" y2="464.96" class="fin" />
<line x1="727" y1="470.25" x2="862" y2="470.25" class="l" stroke="#8c8c8c" stroke-width="1.2"/>
<line x1="725.5" y1="471.75" x2="862" y2="471.75" class="fin" />
<line x1="727" y1="477.03" x2="862" y2="477.03" class="l" stroke="#8c8c8c" stroke-width="1.2"/>
<line x1="725.5" y1="478.53" x2="862" y2="478.53" class="fin" />
<line x1="727" y1="483.82" x2="862" y2="483.82" class="l" stroke="#8c8c8c" stroke-width="1.2"/>
<line x1="725.5" y1="485.32" x2="862" y2="485.32" class="fin" />
<line x1="727" y1="490.6" x2="862" y2="490.6" class="l" stroke="#8c8c8c" stroke-width="1.2"/>
<line x1="725.5" y1="492.1" x2="862" y2="492.1" class="fin" />
<line x1="727" y1="497.39" x2="862" y2="497.39" class="l" stroke="#8c8c8c" stroke-width="1.2"/>
<line x1="725.5" y1="498.89" x2="862" y2="498.89" class="fin" />
<line x1="727" y1="504.17" x2="862" y2="504.17" class="l" stroke="#8c8c8c" stroke-width="1.2"/>
<line x1="725.5" y1="505.67" x2="862" y2="505.67" class="fin" />
<line x1="727" y1="510.96" x2="862" y2="510.96" class="l" stroke="#8c8c8c" stroke-width="1.2"/>
<line x1="725.5" y1="512.46" x2="862" y2="512.46" class="fin" />
<line x1="727" y1="517.75" x2="862" y2="517.75" class="l" stroke="#8c8c8c" stroke-width="1.2"/>
<line x1="725.5" y1="519.25" x2="862" y2="519.25" class="fin" />
<line x1="727" y1="524.53" x2="862" y2="524.53" class="l" stroke="#8c8c8c" stroke-width="1.2"/>
<line x1="725.5" y1="526.03" x2="862" y2="526.03" class="fin" />
<line x1="727" y1="531.31" x2="862" y2="531.31" class="l" stroke="#8c8c8c" stroke-width="1.2"/>
<line x1="725.5" y1="532.81" x2="862" y2="532.81" class="fin" />
<line x1="727" y1="538.1" x2="862" y2="538.1" class="l" stroke="#8c8c8c" stroke-width="1.2"/>
<line x1="725.5" y1="539.6" x2="862" y2="539.6" class="fin" />
<line x1="727" y1="544.88" x2="862" y2="544.88" class="l" stroke="#8c8c8c" stroke-width="1.2"/>
<line x1="725.5" y1="546.38" x2="862" y2="546.38" class="fin" />
<line x1="727" y1="551.67" x2="862" y2="551.67" class="l" stroke="#8c8c8c" stroke-width="1.2"/>
<line x1="725.5" y1="553.17" x2="862" y2="553.17" class="fin" />
<line x1="727" y1="558.45" x2="862" y2="558.45" class="l" stroke="#8c8c8c" stroke-width="1.2"/>
<line x1="725.5" y1="559.95" x2="862" y2="559.95" class="fin" />
<line x1="727" y1="565.24" x2="862" y2="565.24" class="l" stroke="#8c8c8c" stroke-width="1.2"/>
<line x1="725.5" y1="566.74" x2="862" y2="566.74" class="fin" />
<line x1="727" y1="572.02" x2="862" y2="572.02" class="l" stroke="#8c8c8c" stroke-width="1.2"/>
<line x1="725.5" y1="573.52" x2="862" y2="573.52" class="fin" />
<line x1="727" y1="578.81" x2="862" y2="578.81" class="l" stroke="#8c8c8c" stroke-width="1.2"/>
<line x1="725.5" y1="580.31" x2="862" y2="580.31" class="fin" />
<line x1="727" y1="585.6" x2="862" y2="585.6" class="l" stroke="#8c8c8c" stroke-width="1.2"/>
<line x1="725.5" y1="587.1" x2="862" y2="587.1" class="fin" />
<line x1="727" y1="592.38" x2="862" y2="592.38" class="l" stroke="#8c8c8c" stroke-width="1.2"/>
<line x1="725.5" y1="593.88" x2="862" y2="593.88" class="fin" />
<line x1="727" y1="599.16" x2="862" y2="599.16" class="l" stroke="#8c8c8c" stroke-width="1.2"/>
<line x1="725.5" y1="600.66" x2="862" y2="600.66" class="fin" />
<line x1="727" y1="605.95" x2="862" y2="605.95" class="l" stroke="#8c8c8c" stroke-width="1.2"/>
<line x1="725.5" y1="607.45" x2="862" y2="607.45" class="fin" />
<line x1="727" y1="612.74" x2="862" y2="612.74" class="l" stroke="#8c8c8c" stroke-width="1.2"/>
<line x1="725.5" y1="614.24" x2="862" y2="614.24" class="fin" />
<line x1="727" y1="619.52" x2="862" y2="619.52" class="l" stroke="#8c8c8c" stroke-width="1.2"/>
<line x1="725.5" y1="621.02" x2="862" y2="621.02" class="fin" />
<line x1="727" y1="626.3" x2="862" y2="626.3" class="l" stroke="#8c8c8c" stroke-width="1.2"/>
<line x1="725.5" y1="627.8" x2="862" y2="627.8" class="fin" />
<line x1="727" y1="633.09" x2="862" y2="633.09" class="l" stroke="#8c8c8c" stroke-width="1.2"/>
<line x1="725.5" y1="634.59" x2="862" y2="634.59" class="fin" />
<line x1="727" y1="639.88" x2="862" y2="639.88" class="l" stroke="#8c8c8c" stroke-width="1.2"/>
<line x1="725.5" y1="641.38" x2="862" y2="641.38" class="fin" />
<line x1="727" y1="646.66" x2="862" y2="646.66" class="l" stroke="#8c8c8c" stroke-width="1.2"/>
<line x1="725.5" y1="648.16" x2="862" y2="648.16" class="fin" />
<line x1="727" y1="653.44" x2="862" y2="653.44" class="l" stroke="#8c8c8c" stroke-width="1.2"/>
<line x1="725.5" y1="654.94" x2="862" y2="654.94" class="fin" />
<line x1="727" y1="660.23" x2="862" y2="660.23" class="l" stroke="#8c8c8c" stroke-width="1.2"/>
<line x1="725.5" y1="661.73" x2="862" y2="661.73" class="fin" />
<line x1="727" y1="667.01" x2="862" y2="667.01" class="l" stroke="#8c8c8c" stroke-width="1.2"/>
<line x1="725.5" y1="668.51" x2="862" y2="668.51" class="fin" />
<line x1="727" y1="673.8" x2="862" y2="673.8" class="l" stroke="#8c8c8c" stroke-width="1.2"/>
<line x1="725.5" y1="675.3" x2="862" y2="675.3" class="fin" />
<line x1="727" y1="680.59" x2="862" y2="680.59" class="l" stroke="#8c8c8c" stroke-width="1.2"/>
<line x1="725.5" y1="682.09" x2="862" y2="682.09" class="fin" />
<line x1="727" y1="687.37" x2="862" y2="687.37" class="l" stroke="#8c8c8c" stroke-width="1.2"/>
<line x1="725.5" y1="688.87" x2="862" y2="688.87" class="fin" />
<line x1="727" y1="694.15" x2="862" y2="694.15" class="l" stroke="#8c8c8c" stroke-width="1.2"/>
<line x1="725.5" y1="695.65" x2="862" y2="695.65" class="fin" />
<line x1="725.5" y1="388.5" x2="861" y2="388.5" class="l" />
<line x1="725.5" y1="393.5" x2="861" y2="393.5" class="l" />
<line x1="725.5" y1="397.5" x2="861" y2="397.5" class="l" />
<line x1="725.5" y1="696" x2="861" y2="696" class="fin" />
<line x1="747.5" y1="397" x2="747.5" y2="696" class="l" stroke-width="1.1" stroke="#555"/>
<line x1="781.5" y1="397" x2="781.5" y2="696" class="l" stroke-width="1.1" stroke="#555"/>
<line x1="805.5" y1="397" x2="805.5" y2="696" class="l" stroke-width="1.1" stroke="#555"/>
<line x1="815.5" y1="397" x2="815.5" y2="696" class="l" stroke-width="1.1" stroke="#555"/>
<line x1="838.5" y1="397" x2="838.5" y2="696" class="l" stroke-width="1.1" stroke="#555"/>
<line x1="725.5" y1="378" x2="725.5" y2="696" class="l" stroke-width="1.4"/>
<line x1="861.5" y1="378" x2="861.5" y2="397" class="l" />
<line x1="725.5" y1="378.5" x2="745" y2="378.5" class="l" />
<line x1="725.5" y1="380.5" x2="745" y2="380.5" class="l" />
<line x1="774" y1="378.5" x2="778.5" y2="378.5" class="l" />
<line x1="774" y1="380.5" x2="778.5" y2="380.5" class="l" />
<line x1="808" y1="378.5" x2="812.7" y2="378.5" class="l" />
<line x1="808" y1="380.5" x2="812.7" y2="380.5" class="l" />
<line x1="842" y1="378.5" x2="861" y2="378.5" class="l" />
<line x1="842" y1="380.5" x2="861" y2="380.5" class="l" />
<path d="M745,388 L746.2,368.5 Q746.5,365.8 749,365.8 H770 Q772.5,365.8 772.8,368.5 L774,388" class="l" stroke-width="1.3"/>
<line x1="748" y1="366" x2="771" y2="366" class="l" stroke-width="1.8" stroke="#111"/>
<path d="M778.6,388 L779.8,368.5 Q780.1,365.8 782.6,365.8 H804 Q806.5,365.8 806.8,368.5 L808,388" class="l" stroke-width="1.3"/>
<line x1="781.6" y1="366" x2="805" y2="366" class="l" stroke-width="1.8" stroke="#111"/>
<path d="M812.7,388 L813.9,368.5 Q814.2,365.8 816.7,365.8 H838 Q840.5,365.8 840.8,368.5 L842,388" class="l" stroke-width="1.3"/>
<line x1="815.7" y1="366" x2="839" y2="366" class="l" stroke-width="1.8" stroke="#111"/>
<rect x="770.5" y="408.5" width="4" height="270" class="nf" />
<path d="M709,404.5 H769.8 L774.5,409.5 V678 L769.8,681.5 H709 Q706.5,681.5 706.5,680.2 Q706.5,678.5 709,678.5 H770.5 V408.5 H709 Q706.5,408.5 706.5,406.6 Q706.5,404.5 709,404.5 Z" class="nf" />
<path d="M712.2,404.5 H769.8 L774.5,409.5 V678 L769.8,681.5 H712.2" class="l" />
<path d="M712.2,408.5 H769 Q770.5,408.8 770.5,410 V676.5 Q770.5,678 769,678.5 H712.2" class="l" />
<path d="M708.3,404.5 Q706.5,404.8 706.5,406.6 Q706.5,408 708.3,408.5" class="l" />
<path d="M708.3,678.5 Q706.5,678.5 706.5,679.9 Q706.5,681.2 708.3,681.5" class="l" />
<rect x="640.6" y="388" width="84.9" height="312.6" class="l" />
<line x1="653.5" y1="388" x2="653.5" y2="416.6" class="l" />
<line x1="653.5" y1="672.2" x2="653.5" y2="700.6" class="l" />
<line x1="657.5" y1="388" x2="657.5" y2="416.6" class="l" />
<line x1="657.5" y1="672.2" x2="657.5" y2="700.6" class="l" />
<line x1="708.5" y1="388" x2="708.5" y2="416.6" class="l" />
<line x1="708.5" y1="672.2" x2="708.5" y2="700.6" class="l" />
<line x1="712.5" y1="388" x2="712.5" y2="416.6" class="l" />
<line x1="712.5" y1="672.2" x2="712.5" y2="700.6" class="l" />
<line x1="640.6" y1="403.5" x2="653.4" y2="403.5" class="l" />
<line x1="640.6" y1="685.5" x2="653.4" y2="685.5" class="l" />
<line x1="653.4" y1="416.5" x2="712.3" y2="416.5" class="l" />
<line x1="653.4" y1="422.5" x2="712.3" y2="422.5" class="l" />
<path d="M653.4,416.6 V430 Q653.6,433 657.2,433.1 H708.8 Q712.1,433 712.3,430 V416.6" class="l" />
<path d="M657.2,433.1 V507.3 H708.8 V433.1" class="l" />
<path d="M653.4,430 V495.8 L657.2,507.3 M712.3,430 V495.8 L708.8,507.3" class="l" />
<path d="M657.2,581.5 H708.8 V655.5 M657.2,581.5 V655.5" class="l" />
<path d="M657.2,581.5 L653.4,592.8 V672.2 M708.8,581.5 L712.3,592.8 V672.2" class="l" />
<path d="M653.4,658.5 Q653.6,655.6 657.2,655.5 H708.8 Q712.1,655.6 712.3,658.5" class="l" />
<line x1="653.4" y1="666.5" x2="712.3" y2="666.5" class="l" />
<line x1="653.4" y1="672.5" x2="712.3" y2="672.5" class="l" />
<path d="M713.3,740.6 H633.6 V753.4 H689 Q698.4,753.4 698.4,763 V781.3 H827.5 V763 Q827.5,753.8 837,753.8 H891.6 V740.6 H801" class="l" />
<path d="M713.3,740.6 V747.5 H720.6 V740.6 H728 V747.5 H732.8" class="l" />
<path d="M759.5,740.6 V747.2 H765.8 V740.6" class="l" />
<path d="M790.8,740.6 V747.2 H797 V740.6" class="l" />
<path d="M749.2,696 V711 C749,722 744,730 734.5,742.5 L721,766.5 Q715.5,773.5 718.8,781.3 L738.4,781.3 L756.3,744 C764,733 769,724 769.5,711 V696 Z" class="nf" />
<path d="M749.2,696 V711 C749,722 744,730 734.5,742.5 L721,766.5 Q715.5,773.5 718.8,781.3" class="l" />
<path d="M769.5,696 V711 C769,724 764,733 756.3,744 L738.4,781.3" class="l" />
<line x1="749.2" y1="703.5" x2="769.5" y2="703.5" class="l" />
<line x1="743.8" y1="728.4" x2="760.2" y2="736.3" class="l" />
<line x1="739.8" y1="737" x2="756.3" y2="744.8" class="l" />
<path d="M782.6,696 V711 C782.4,722 777.4,730 767.9,742.5 L754.4,766.5 Q748.9,773.5 752.2,781.3 L771.8,781.3 L789.7,744 C797.4,733 802.4,724 802.9,711 V696 Z" class="nf" />
<path d="M782.6,696 V711 C782.4,722 777.4,730 767.9,742.5 L754.4,766.5 Q748.9,773.5 752.2,781.3" class="l" />
<path d="M802.9,696 V711 C802.4,724 797.4,733 789.7,744 L771.8,781.3" class="l" />
<line x1="782.6" y1="703.5" x2="802.9" y2="703.5" class="l" />
<line x1="777.2" y1="728.4" x2="793.6" y2="736.3" class="l" />
<line x1="773.2" y1="737" x2="789.7" y2="744.8" class="l" />
<path d="M816,696 V711 C815.8,722 810.8,730 801.3,742.5 L787.8,766.5 Q782.3,773.5 785.6,781.3 L805.2,781.3 L823.1,744 C830.8,733 835.8,724 836.3,711 V696 Z" class="nf" />
<path d="M816,696 V711 C815.8,722 810.8,730 801.3,742.5 L787.8,766.5 Q782.3,773.5 785.6,781.3" class="l" />
<path d="M836.3,696 V711 C835.8,724 830.8,733 823.1,744 L805.2,781.3" class="l" />
<line x1="816" y1="703.5" x2="836.3" y2="703.5" class="l" />
<line x1="810.6" y1="728.4" x2="827" y2="736.3" class="l" />
<line x1="806.6" y1="737" x2="823.1" y2="744.8" class="l" />
<line x1="633.6" y1="781.5" x2="827.5" y2="781.5" class="l" />
<line x1="640.5" y1="342.5" x2="640.5" y2="398.8" class="r" />
<line x1="861.5" y1="340" x2="861.5" y2="403" class="r" />
<line x1="640.6" y1="358.5" x2="861.4" y2="358.5" class="r" />
<polygon points="641,358.9 650.5,356.5 650.5,361.3" class="ra"/>
<polygon points="861,358.9 851.5,356.5 851.5,361.3" class="ra"/>
<text x="750.45" y="354.2" class="tx" textLength="50.7" lengthAdjust="spacingAndGlyphs">65mm</text>
<line x1="861" y1="695.5" x2="927.5" y2="695.5" class="r" />
<line x1="801" y1="781.5" x2="927.5" y2="781.5" class="r" />
<line x1="917.5" y1="695.6" x2="917.5" y2="781.3" class="r" />
<polygon points="917.7,696 915.3,705.5 920.1,705.5" class="ra"/>
<polygon points="917.7,781 915.3,771.5 920.1,771.5" class="ra"/>
<text x="739.4" y="-900.5" class="tx" transform="rotate(90)" textLength="51" lengthAdjust="spacingAndGlyphs">25mm</text>
</svg></body></html>
